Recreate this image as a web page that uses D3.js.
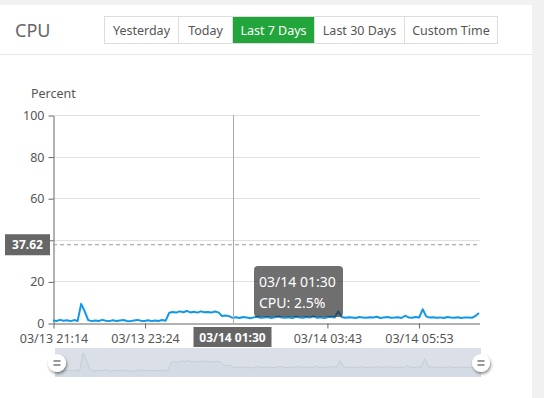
<!DOCTYPE html>
<html><head><meta charset="utf-8">
<script src="https://cdn.jsdelivr.net/npm/d3@7"></script>
<style>
html,body{margin:0;padding:0;background:#f1f1f1;}
svg{display:block;font-family:"Noto Sans","Open Sans",sans-serif;}
</style></head><body>
<svg id="c" width="544" height="398"></svg>
<script>
// ---------- data ----------
const title = "CPU";
const buttons = ["Yesterday","Today","Last 7 Days","Last 30 Days","Custom Time"];
const activeButton = "Last 7 Days";
const startTime = "2024-03-13T21:14";
const stepMinutes = 5;
const cpuValues = [
 1.2,1.0,1.5,1.1,1.3,0.9,1.4,1.0,
 9.2,5.6,
 1.4,0.9,1.2,1.0,1.5,1.1,0.9,1.3,1.0,1.2,1.4,1.0,0.9,1.2,1.5,1.1,1.0,1.3,0.9,1.2,1.0,1.4,1.1,
 4.9,5.3,5.0,5.6,5.2,5.8,5.1,5.4,5.0,5.6,5.2,5.3,5.0,5.5,5.1,
 3.4,3.6,3.3,
 2.5,2.8,2.4,2.9,2.6,2.3,2.7,3.0,2.5,2.6,
 2.9,2.4,2.7,3.1,2.6,2.5,2.8,2.4,3.0,2.7,
 2.5,2.9,2.6,3.2,2.5,2.7,2.4,2.8,3.0,2.6,
 5.6,2.9,2.5,2.8,2.6,2.4,2.9,2.7,2.5,2.8,
 2.6,3.0,2.4,2.7,2.9,2.5,2.6,2.8,2.4,3.5,
 2.7,2.5,2.9,2.6,6.6,3.2,2.6,2.8,2.5,2.7,
 2.4,2.9,2.6,2.5,2.8,2.4,2.7,2.6,2.5,3.4,4.8
];
const yTicks = [0,20,40,60,80,100];
const yTickHidden = [40]; // covered by the mark label in the reference
const xTickTimes = ["2024-03-13T21:14","2024-03-13T23:24","2024-03-14T03:43","2024-03-14T05:53"];
const xTickLabels = ["03/13 21:14","03/13 23:24","03/14 03:43","03/14 05:53"];
const markValue = 37.62;
const hoverTime = "2024-03-14T01:30";
const hoverLabel = "03/14 01:30";
const hoverValueText = "CPU: 2.5%";
const yAxisName = "Percent";

// ---------- build ----------
const parse = d3.timeParse("%Y-%m-%dT%H:%M");
const t0 = parse(startTime);
const data = cpuValues.map((v,i)=>({t:d3.timeMinute.offset(t0,i*stepMinutes), v}));

const svg = d3.select("#c");
const defs = svg.append("defs");
const f = defs.append("filter").attr("id","sh").attr("x","-50%").attr("y","-50%").attr("width","200%").attr("height","200%");
f.append("feDropShadow").attr("dx",1).attr("dy",2).attr("stdDeviation",1.5).attr("flood-color","#000").attr("flood-opacity",0.45);

// panel
svg.append("rect").attr("x",0).attr("y",5).attr("width",532).attr("height",393).attr("fill","#fff");
svg.append("line").attr("x1",0).attr("x2",532).attr("y1",54.5).attr("y2",54.5).attr("stroke","#e8e8e8");
svg.append("text").attr("x",15).attr("y",37).attr("font-size",18).attr("fill","#666").text(title);

// buttons
const bEdges = [104,178,232,314,404,497];
const bg = svg.append("g");
buttons.forEach((b,i)=>{
  const x0=bEdges[i], x1=bEdges[i+1];
  const act = b===activeButton;
  bg.append("rect").attr("x",x0+0.5).attr("y",16.5).attr("width",x1-x0).attr("height",27)
    .attr("fill",act?"#22a53b":"#fff").attr("stroke",act?"#22a53b":"#ddd");
  bg.append("text").attr("x",(x0+x1)/2+0.5).attr("y",34.5).attr("text-anchor","middle")
    .attr("font-size",12.5).attr("fill",act?"#fff":"#555").text(b);
});
bg.append("rect").attr("x",104.5).attr("y",16.5).attr("width",393).attr("height",27).attr("fill","none").attr("stroke","#ddd");
bg.append("rect").attr("x",232.5).attr("y",16.5).attr("width",82).attr("height",27).attr("fill","none").attr("stroke","#ddd");

// scales
const x = d3.scaleTime().domain([data[0].t, data[data.length-1].t]).range([53,479]);
const y = d3.scaleLinear().domain([0,100]).range([323,115]);

// grid
svg.append("g").selectAll("line").data(yTicks.filter(d=>d>0)).join("line")
  .attr("x1",53).attr("x2",480).attr("y1",d=>Math.round(y(d))+0.5).attr("y2",d=>Math.round(y(d))+0.5)
  .attr("stroke","#e0e0e0");

// y axis
const yAx = svg.append("g").attr("transform","translate(53.5,0.5)")
  .call(d3.axisLeft(y).tickValues(yTicks).tickFormat(d=>yTickHidden.includes(d)?"":d).tickSize(5).tickPadding(4).tickSizeOuter(0));
yAx.select(".domain").attr("stroke","#666");
yAx.selectAll(".tick line").attr("stroke","#666");
yAx.selectAll(".tick text").attr("font-size",12.5).attr("fill","#555").attr("font-family","Noto Sans, sans-serif");

svg.append("text").attr("x",31).attr("y",97.5).attr("font-size",12.5).attr("fill","#555").text(yAxisName);

// x axis
const xAx = svg.append("g").attr("transform","translate(0.5,323.5)")
  .call(d3.axisBottom(x).tickValues(xTickTimes.map(parse)).tickFormat((d,i)=>xTickLabels[i]).tickSize(5).tickPadding(6).tickSizeOuter(0));
xAx.select(".domain").attr("stroke","#666");
xAx.selectAll(".tick line").attr("stroke","#666");
xAx.selectAll(".tick text").attr("font-size",12.5).attr("fill","#555").attr("font-family","Noto Sans, sans-serif");

// mark line
svg.append("line").attr("x1",53).attr("x2",480).attr("y1",y(markValue)).attr("y2",y(markValue))
  .attr("stroke","#999").attr("stroke-dasharray","4,3");

// data line
const line = d3.line().x(d=>x(d.t)).y(d=>y(d.v));
svg.append("path").datum(data).attr("d",line).attr("fill","none").attr("stroke","#0f97e8").attr("stroke-width",2).attr("stroke-linejoin","round");

// crosshair
const hx = Math.round(x(parse(hoverTime)))+0.5;
svg.append("line").attr("x1",hx).attr("x2",hx).attr("y1",115).attr("y2",323).attr("stroke","#aaa");

// tooltip
const tt = svg.append("g");
tt.append("rect").attr("x",254).attr("y",266).attr("width",89).attr("height",51).attr("rx",4)
  .attr("fill","rgba(50,50,50,0.7)");
tt.append("text").attr("x",259).attr("y",287).attr("font-size",14).attr("fill","#fff").text(hoverLabel);
tt.append("text").attr("x",259).attr("y",307.5).attr("font-size",14).attr("fill","#fff").text(hoverValueText);

// x pointer label
svg.append("rect").attr("x",hx-40).attr("y",327).attr("width",78).attr("height",20).attr("fill","#666");
svg.append("text").attr("x",hx-1).attr("y",341.5).attr("text-anchor","middle").attr("font-size",12)
  .attr("font-weight","bold").attr("fill","#fff").text(hoverLabel);

// y pointer label
const my = y(markValue);
svg.append("rect").attr("x",5).attr("y",my-10.5).attr("width",45).attr("height",21).attr("fill","#666");
svg.append("text").attr("x",27.5).attr("y",my+4.5).attr("text-anchor","middle").attr("font-size",12)
  .attr("font-weight","bold").attr("fill","#fff").text(markValue.toFixed(2));

// data zoom slider
const sx = d3.scaleTime().domain(x.domain()).range([55,481]);
const sy = d3.scaleLinear().domain([0,d3.max(cpuValues)]).range([373,353]);
svg.append("rect").attr("x",55).attr("y",348).attr("width",426).attr("height",29).attr("fill","#dbe0e8");
const area = d3.area().x(d=>sx(d.t)).y0(377).y1(d=>sy(d.v));
svg.append("path").datum(data).attr("d",area).attr("fill","rgba(120,130,150,0.05)");
svg.append("path").datum(data).attr("d",d3.line().x(d=>sx(d.t)).y(d=>sy(d.v)))
  .attr("fill","none").attr("stroke","#c2c8d1").attr("stroke-width",0.8);
[57,481].forEach(hxx=>{
  const g = svg.append("g").attr("transform",`translate(${hxx},363)`);
  g.append("circle").attr("r",9).attr("fill","#fff").attr("filter","url(#sh)");
  g.append("line").attr("x1",-3.5).attr("x2",3.5).attr("y1",-2).attr("y2",-2).attr("stroke","#555").attr("stroke-width",1.2);
  g.append("line").attr("x1",-3.5).attr("x2",3.5).attr("y1",2).attr("y2",2).attr("stroke","#555").attr("stroke-width",1.2);
});
</script></body></html>
